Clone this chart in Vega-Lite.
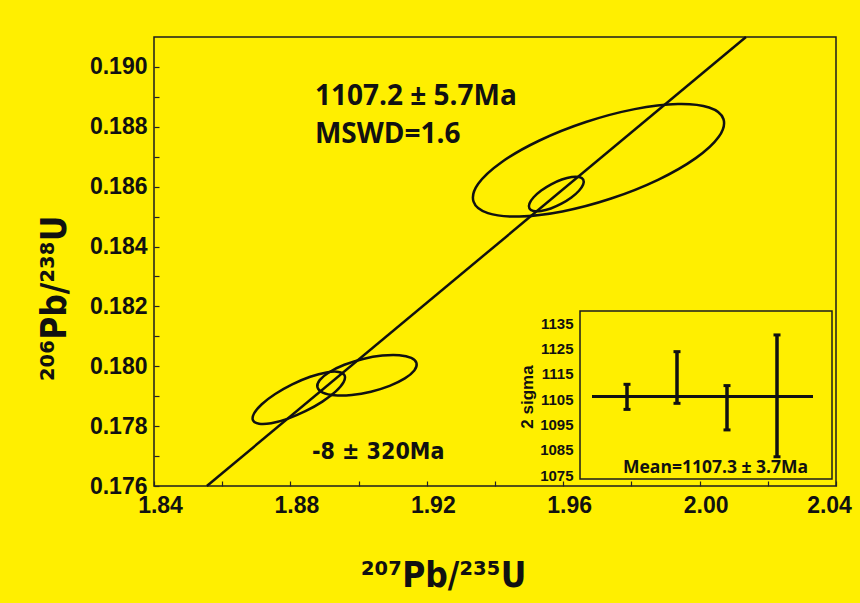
{
  "$schema": "https://vega.github.io/schema/vega-lite/v6.json",
  "width": 682,
  "height": 449,
  "autosize": {"type": "none"},
  "padding": {"left": 154, "top": 37, "right": 24, "bottom": 117},
  "background": "#FFEF00",
  "config": {
    "view": {"stroke": "#1c1c1c", "strokeWidth": 1.5},
    "font": "Liberation Sans",
    "axis": {"grid": false}
  },
  "datasets": {
    "ellipses": [
      {"e": 1, "i": 0, "x": 2.00699, "y": 0.188260},
      {"e": 1, "i": 1, "x": 2.00562, "y": 0.187666},
      {"e": 1, "i": 2, "x": 1.99888, "y": 0.186953},
      {"e": 1, "i": 3, "x": 1.98780, "y": 0.186228},
      {"e": 1, "i": 4, "x": 1.97406, "y": 0.185603},
      {"e": 1, "i": 5, "x": 1.95975, "y": 0.185172},
      {"e": 1, "i": 6, "x": 1.94706, "y": 0.185002},
      {"e": 1, "i": 7, "x": 1.93792, "y": 0.185118},
      {"e": 1, "i": 8, "x": 1.93371, "y": 0.185502},
      {"e": 1, "i": 9, "x": 1.93508, "y": 0.186096},
      {"e": 1, "i": 10, "x": 1.94182, "y": 0.186810},
      {"e": 1, "i": 11, "x": 1.95290, "y": 0.187534},
      {"e": 1, "i": 12, "x": 1.96664, "y": 0.188159},
      {"e": 1, "i": 13, "x": 1.98095, "y": 0.188590},
      {"e": 1, "i": 14, "x": 1.99364, "y": 0.188760},
      {"e": 1, "i": 15, "x": 2.00278, "y": 0.188644},
      {"e": 2, "i": 0, "x": 1.96588, "y": 0.186233},
      {"e": 2, "i": 1, "x": 1.96585, "y": 0.186073},
      {"e": 2, "i": 2, "x": 1.96463, "y": 0.185864},
      {"e": 2, "i": 3, "x": 1.96240, "y": 0.185638},
      {"e": 2, "i": 4, "x": 1.95949, "y": 0.185431},
      {"e": 2, "i": 5, "x": 1.95636, "y": 0.185272},
      {"e": 2, "i": 6, "x": 1.95347, "y": 0.185187},
      {"e": 2, "i": 7, "x": 1.95126, "y": 0.185189},
      {"e": 2, "i": 8, "x": 1.95008, "y": 0.185277},
      {"e": 2, "i": 9, "x": 1.95011, "y": 0.185437},
      {"e": 2, "i": 10, "x": 1.95133, "y": 0.185646},
      {"e": 2, "i": 11, "x": 1.95356, "y": 0.185872},
      {"e": 2, "i": 12, "x": 1.95647, "y": 0.186079},
      {"e": 2, "i": 13, "x": 1.95961, "y": 0.186238},
      {"e": 2, "i": 14, "x": 1.96249, "y": 0.186323},
      {"e": 2, "i": 15, "x": 1.96470, "y": 0.186321},
      {"e": 3, "i": 0, "x": 1.89587, "y": 0.179698},
      {"e": 3, "i": 1, "x": 1.89560, "y": 0.179469},
      {"e": 3, "i": 2, "x": 1.89332, "y": 0.179161},
      {"e": 3, "i": 3, "x": 1.88938, "y": 0.178820},
      {"e": 3, "i": 4, "x": 1.88440, "y": 0.178498},
      {"e": 3, "i": 5, "x": 1.87912, "y": 0.178244},
      {"e": 3, "i": 6, "x": 1.87435, "y": 0.178098},
      {"e": 3, "i": 7, "x": 1.87082, "y": 0.178080},
      {"e": 3, "i": 8, "x": 1.86905, "y": 0.178194},
      {"e": 3, "i": 9, "x": 1.86933, "y": 0.178423},
      {"e": 3, "i": 10, "x": 1.87161, "y": 0.178731},
      {"e": 3, "i": 11, "x": 1.87554, "y": 0.179072},
      {"e": 3, "i": 12, "x": 1.88053, "y": 0.179394},
      {"e": 3, "i": 13, "x": 1.88581, "y": 0.179648},
      {"e": 3, "i": 14, "x": 1.89058, "y": 0.179794},
      {"e": 3, "i": 15, "x": 1.89411, "y": 0.179812},
      {"e": 4, "i": 0, "x": 1.91699, "y": 0.180099},
      {"e": 4, "i": 1, "x": 1.91633, "y": 0.179859},
      {"e": 4, "i": 2, "x": 1.91356, "y": 0.179594},
      {"e": 4, "i": 3, "x": 1.90910, "y": 0.179346},
      {"e": 4, "i": 4, "x": 1.90362, "y": 0.179151},
      {"e": 4, "i": 5, "x": 1.89798, "y": 0.179040},
      {"e": 4, "i": 6, "x": 1.89301, "y": 0.179028},
      {"e": 4, "i": 7, "x": 1.88948, "y": 0.179119},
      {"e": 4, "i": 8, "x": 1.88793, "y": 0.179297},
      {"e": 4, "i": 9, "x": 1.88859, "y": 0.179537},
      {"e": 4, "i": 10, "x": 1.89137, "y": 0.179802},
      {"e": 4, "i": 11, "x": 1.89583, "y": 0.180050},
      {"e": 4, "i": 12, "x": 1.90130, "y": 0.180245},
      {"e": 4, "i": 13, "x": 1.90695, "y": 0.180356},
      {"e": 4, "i": 14, "x": 1.91192, "y": 0.180368},
      {"e": 4, "i": 15, "x": 1.91544, "y": 0.180277}
    ],
    "discordia": [
      {"x": 1.8555, "y": 0.176},
      {"x": 2.0136, "y": 0.191}
    ],
    "bars": [
      {"x": 1, "y": 1100.9, "y2": 1110.8},
      {"x": 2, "y": 1103.3, "y2": 1123.7},
      {"x": 3, "y": 1092.8, "y2": 1110.3},
      {"x": 4, "y": 1082.2, "y2": 1130.3}
    ],
    "caps": [
      {"x": 1, "y": 1100.9}, {"x": 1, "y": 1110.8},
      {"x": 2, "y": 1103.3}, {"x": 2, "y": 1123.7},
      {"x": 3, "y": 1092.8}, {"x": 3, "y": 1110.3},
      {"x": 4, "y": 1082.2}, {"x": 4, "y": 1130.3}
    ]
  },
  "layer": [
    {
      "encoding": {
        "x": {
          "field": "x", "type": "quantitative",
          "scale": {"domain": [1.84, 2.04], "nice": false, "zero": false},
          "axis": {
            "values": [1.84, 1.86, 1.88, 1.90, 1.92, 1.94, 1.96, 1.98, 2.00, 2.02, 2.04],
            "labelExpr": "round(datum.value*100) % 4 == 0 ? format(datum.value, '.2f') : ''",
            "domain": false, "grid": false,
            "tickSize": -5, "tickColor": "#222", "tickWidth": 1.2,
            "labelFont": "Liberation Sans", "labelFontSize": 23, "labelFontWeight": "bold",
            "labelColor": "#111", "labelPadding": 13,
            "labelOffset": {"condition": {"test": "datum.value > 2.03", "value": -7}, "value": 6},
            "labelFlush": false, "labelOverlap": false,
            "title": "²⁰⁷Pb/²³⁵U",
            "titleFont": "DejaVu Sans Condensed", "titleFontSize": 35, "titleFontWeight": "bold",
            "titleColor": "#111", "titleX": 289, "titleY": 100, "titleBaseline": "alphabetic"
          }
        },
        "y": {
          "field": "y", "type": "quantitative",
          "scale": {"domain": [0.176, 0.191], "nice": false, "zero": false},
          "axis": {
            "values": [0.176, 0.177, 0.178, 0.179, 0.180, 0.181, 0.182, 0.183, 0.184, 0.185, 0.186, 0.187, 0.188, 0.189, 0.190],
            "labelExpr": "round(datum.value*1000) % 2 == 0 ? format(datum.value, '.3f') : ''",
            "domain": false, "grid": false,
            "tickSize": -5, "tickColor": "#222", "tickWidth": 1.2,
            "labelFont": "Liberation Sans", "labelFontSize": 23, "labelFontWeight": "bold",
            "labelColor": "#111", "labelPadding": 12, "labelFlush": false, "labelOverlap": false,
            "title": "²⁰⁶Pb/²³⁸U",
            "titleFont": "DejaVu Sans Condensed", "titleFontSize": 35, "titleFontWeight": "bold",
            "titleColor": "#111", "titleX": -89, "titleY": 261, "titleBaseline": "alphabetic", "titleAngle": 270
          }
        }
      },
      "layer": [
        {
          "data": {"name": "discordia"},
          "mark": {"type": "line", "color": "#111", "strokeWidth": 2.5},
          "encoding": {}
        },
        {
          "data": {"name": "ellipses"},
          "mark": {"type": "line", "color": "#111", "strokeWidth": 2.5, "interpolate": "cardinal-closed"},
          "encoding": {
            "detail": {"field": "e", "type": "nominal"},
            "order": {"field": "i", "type": "quantitative"}
          }
        },
        {
          "data": {"values": [
            {"x": 1.8872, "y": 0.18873, "t": "1107.2 ± 5.7Ma"},
            {"x": 1.8872, "y": 0.18746, "t": "MSWD=1.6"}
          ]},
          "mark": {"type": "text", "align": "left", "baseline": "alphabetic", "font": "Open Sans", "fontSize": 28, "fontWeight": "bold", "color": "#111"},
          "encoding": {"text": {"field": "t"}}
        },
        {
          "data": {"values": [
            {"x": 1.8863, "y": 0.17690, "t": "-8 ± 320Ma"}
          ]},
          "mark": {"type": "text", "align": "left", "baseline": "alphabetic", "font": "DejaVu Sans Condensed", "fontSize": 23, "fontWeight": "bold", "color": "#111"},
          "encoding": {"text": {"field": "t"}}
        }
      ]
    },
    {
      "encoding": {
        "x": {
          "field": "x", "type": "quantitative",
          "scale": {"domain": [-8.46, 5.18], "nice": false, "zero": false},
          "axis": null
        },
        "y": {
          "field": "y", "type": "quantitative",
          "scale": {"domain": [1070.66, 1247.92], "nice": false, "zero": false},
          "axis": {
            "orient": "left", "offset": -426,
            "values": [1075, 1085, 1095, 1105, 1115, 1125, 1135],
            "format": "d", "domain": false, "ticks": false, "grid": false,
            "labelFont": "Liberation Sans", "labelFontSize": 15, "labelFontWeight": "bold",
            "labelColor": "#111", "labelPadding": 7, "labelFlush": false, "labelOverlap": false,
            "title": null
          }
        }
      },
      "layer": [
        {
          "data": {"values": [{"x": 0.06, "x2": 5.1, "y": 1073.4, "y2": 1139.75}]},
          "mark": {"type": "rect", "fill": null, "fillOpacity": 0, "stroke": "#1c1c1c", "strokeWidth": 1.5},
          "encoding": {"x2": {"field": "x2"}, "y2": {"field": "y2"}}
        },
        {
          "data": {"values": [{"x": 0.3, "x2": 4.72, "y": 1106}]},
          "mark": {"type": "rule", "color": "#111", "strokeWidth": 3},
          "encoding": {"x2": {"field": "x2"}}
        },
        {
          "data": {"name": "bars"},
          "mark": {"type": "rule", "color": "#111", "strokeWidth": 3.5},
          "encoding": {"y2": {"field": "y2"}}
        },
        {
          "data": {"name": "caps"},
          "mark": {"type": "tick", "orient": "horizontal", "color": "#111", "size": 7, "thickness": 3, "opacity": 1},
          "encoding": {}
        },
        {
          "data": {"values": [{"x": 0.92, "y": 1075.8, "t": "Mean=1107.3 ± 3.7Ma"}]},
          "mark": {"type": "text", "align": "left", "baseline": "alphabetic", "font": "Open Sans", "fontSize": 17.5, "fontWeight": "bold", "color": "#111"},
          "encoding": {"text": {"field": "t"}}
        },
        {
          "data": {"values": [{"x": -0.98, "y": 1105.8, "t": "2 sigma"}]},
          "mark": {"type": "text", "align": "center", "baseline": "middle", "angle": 270, "font": "Liberation Sans", "fontSize": 17, "fontWeight": "bold", "color": "#111"},
          "encoding": {"text": {"field": "t"}}
        }
      ]
    }
  ],
  "resolve": {"scale": {"x": "independent", "y": "independent"}}
}
